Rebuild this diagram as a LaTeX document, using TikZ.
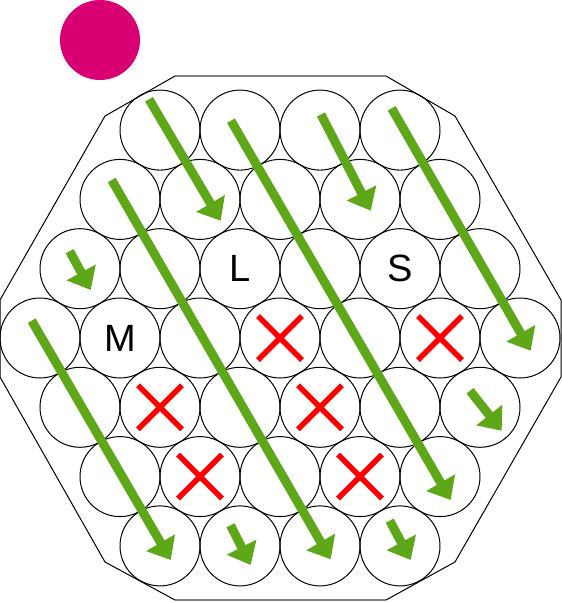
\documentclass[tikz,border=0pt]{standalone}
\usepackage{fontspec}
\setmainfont{Liberation Sans}
\usetikzlibrary{arrows.meta}
\definecolor{mag}{HTML}{D80073}
\definecolor{grn}{RGB}{94,167,24}
\definecolor{xred}{RGB}{255,0,0}
\begin{document}
\begin{tikzpicture}[x=1pt,y=-1pt,
  ball/.style={circle,draw=black,line width=1pt,minimum size=80pt,inner sep=0pt},
  lbl/.style={font=\fontsize{38}{40}\selectfont,inner sep=0pt},
  garrow/.style={draw=grn,line width=9pt,-{Triangle[width=32pt,length=20pt]}},
  xmark/.style={draw=xred,line width=5.5pt},
  rim/.style={draw=black,line width=1pt},
  rimflat/.style={draw=black!50,line width=2pt}]
\fill[white] (0,0) rectangle (562,603);
\useasboundingbox (0,0) rectangle (562,603);
% magenta dot
\node[circle,fill=mag,minimum size=80pt,inner sep=0pt] (dot) at (100,40) {};
% octagon outline
\coordinate (o1) at (175,76);
\coordinate (o2) at (386,76);
\coordinate (o3) at (455,116);
\coordinate (o4) at (561,300);
\coordinate (o5) at (561,377);
\coordinate (o6) at (455,562);
\coordinate (o7) at (386,600);
\coordinate (o8) at (175,600);
\coordinate (o9) at (105,562);
\coordinate (o10) at (0,377);
\coordinate (o11) at (0,300);
\coordinate (o12) at (105,116);
\draw[rim] (o2) -- (o3) -- (o4) -- (o5) -- (o6) -- (o7);
\draw[rim] (o8) -- (o9) -- (o10) -- (o11) -- (o12) -- (o1);
\draw[rimflat] (o1) -- (o2);
\draw[rimflat] (o8) -- (o7);
% circles
\foreach \r in {1,...,7} {
  \pgfmathtruncatemacro\n{7-abs(\r-4)}
  \foreach \i in {1,...,\n} {
    \node[ball] (c\r-\i) at ({280-40*(\n-1)+80*(\i-1)}, {338+69.3*(\r-4)}) {};
  }
}
% labels
\node[lbl] (labL) at (c3-3) {L};
\node[lbl] (labS) at (c3-5) {S};
\node[lbl] (labM) at (c4-2) {M};
% red crosses
\foreach \c in {c4-4,c4-6,c5-2,c5-4,c6-2,c6-4} {
  \draw[xmark] ([shift={(-22,-22)}]\c.center) -- ([shift={(22,22)}]\c.center);
  \draw[xmark] ([shift={(-22,22)}]\c.center) -- ([shift={(22,-22)}]\c.center);
}
% green arrows
\coordinate (a1) at (149,99.3);   \coordinate (a2) at (220.7,220.7);
\coordinate (b1) at (231,120.7);  \coordinate (b2) at (450.7,500);
\coordinate (k1) at (111.7,180);  \coordinate (k2) at (330.7,559.3);
\coordinate (d1) at (31.7,320.7); \coordinate (d2) at (170.7,560);
\coordinate (e1) at (69.7,251.2); \coordinate (e2) at (90.7,290);
\coordinate (f1) at (321,114.5);  \coordinate (f2) at (370.7,210.7);
\coordinate (g1) at (391.7,108.3);\coordinate (g2) at (530.7,350.7);
\coordinate (h1) at (470,390.8);  \coordinate (h2) at (501.7,430.7);
\coordinate (i1) at (389.7,520.7);\coordinate (i2) at (410.7,560);
\coordinate (j1) at (230.5,525.3);\coordinate (j2) at (250.7,565);
\foreach \p in {a,b,k,d,e,f,g,h,i,j} {
  \draw[garrow] (\p1) -- (\p2);
}
\end{tikzpicture}
\end{document}
